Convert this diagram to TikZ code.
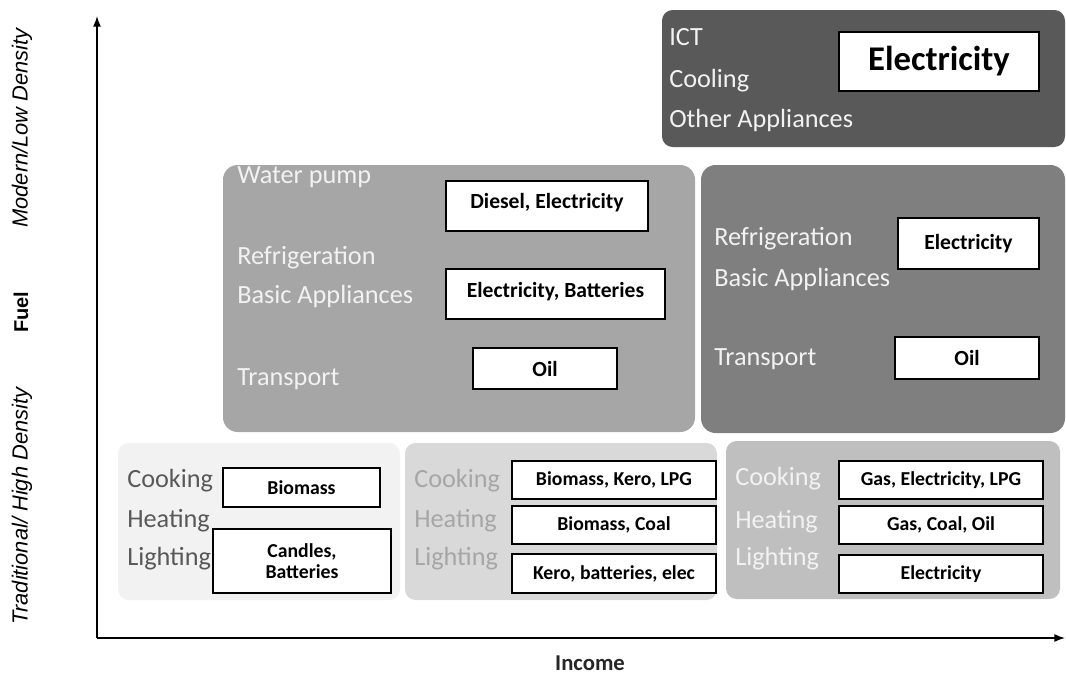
\documentclass[tikz,border=0pt]{standalone}
\usepackage{fontspec}
\setmainfont{Carlito}
\newfontfamily\axisfont{Liberation Sans}
\usetikzlibrary{arrows.meta,fit}
\definecolor{panA}{HTML}{F2F2F2}
\definecolor{panB}{HTML}{D9D9D9}
\definecolor{panC}{HTML}{BFBFBF}
\definecolor{midL}{HTML}{A6A6A6}
\definecolor{midR}{HTML}{7F7F7F}
\definecolor{topP}{HTML}{595959}
\definecolor{lblW}{HTML}{F2F2F2}
\definecolor{lblA}{HTML}{595959}
\definecolor{lblB}{HTML}{A6A6A6}
\newcommand\pxl[1]{#1*0.75pt}
\begin{document}
\begin{tikzpicture}[x=0.75pt,y=-0.75pt,
  panel/.style={rectangle, inner sep=0pt, draw=none, rounded corners=8pt},
  bigpanel/.style={rectangle, inner sep=0pt, draw=none, rounded corners=11pt},
  fuelbox/.style={rectangle, draw=black, line width=1pt, fill=white, inner sep=0pt, align=center, text=black},
  smallbox/.style={fuelbox, font=\bfseries\fontsize{14.8}{16.2}\selectfont},
  midbox/.style={fuelbox, font=\bfseries\fontsize{16.2}{18}\selectfont},
  sz/.style 2 args={minimum width=\pxl{#1}, minimum height=\pxl{#2}},
  lbl/.style={anchor=base west, inner sep=0pt, font=\fontsize{19.7}{22}\selectfont},
  axislbl/.style={rotate=90, anchor=center, inner sep=0pt, font=\axisfont\itshape\fontsize{16.4}{18}\selectfont},
  axisline/.style={line width=1.1pt, -{Latex[length=8pt,width=6pt]}}
]
\useasboundingbox (0,0) rectangle (1066,675);

% axes
\coordinate (o) at (97,638);
\coordinate (yt) at (97,16);
\coordinate (xt) at (1065,638);
\draw[axisline] (o) -- (yt);
\draw[axisline] (o) -- (xt);
\node[anchor=base, inner sep=0pt, font=\bfseries\fontsize{17}{20}\selectfont, text=black!85] (income) at (590,670) {Income};
\node[axislbl] (modern) at (22,128) {Modern/Low Density};
\node[axislbl, font=\axisfont\bfseries\fontsize{15}{17}\selectfont] (fuel) at (21,312) {Fuel};
\node[axislbl] (trad) at (22,506) {Traditional/ High Density};

% top panel
\node[panel, fill=topP, fit={(662,10) (1065,147)}] (ptop) {};
\node[lbl, text=lblW] (t1) at (669,45) {ICT};
\node[lbl, text=lblW] (t2) at (669,87) {Cooling};
\node[lbl, text=lblW] (t3) at (669,127) {Other Appliances};
\node[fuelbox, font=\bfseries\fontsize{26}{30}\selectfont, sz={200}{59}] (tb) at (939,61.5) {Electricity};

% middle left panel
\node[bigpanel, fill=midL, fit={(223,165) (695,432)}] (pml) {};
\node[lbl, text=lblW] (ml1) at (237,183) {Water pump};
\node[lbl, text=lblW] (ml2) at (237,264) {Refrigeration};
\node[lbl, text=lblW] (ml3) at (237,303) {Basic Appliances};
\node[lbl, text=lblW] (ml4) at (237,385) {Transport};
\node[midbox, sz={202}{50}] (mlb1) at (547,206) {\raisebox{7.5pt}{Diesel, Electricity}};
\node[midbox, sz={219}{50}] (mlb2) at (555.5,294) {\raisebox{6pt}{Electricity, Batteries}};
\node[midbox, sz={144}{41}] (mlb3) at (545,368.5) {Oil};

% middle right panel
\node[bigpanel, fill=midR, fit={(701,165) (1065,433)}] (pmr) {};
\node[lbl, text=lblW] (mr1) at (714,245) {Refrigeration};
\node[lbl, text=lblW] (mr2) at (714,286) {Basic Appliances};
\node[lbl, text=lblW] (mr3) at (714,365) {Transport};
\node[midbox, sz={141}{51}] (mrb1) at (968.5,243.5) {Electricity};
\node[midbox, sz={144}{42}] (mrb2) at (967,358) {Oil};

% bottom panel A
\node[panel, fill=panA, fit={(118,443) (400,600)}] (pa) {};
\node[lbl, text=lblA] (a1) at (127,487) {Cooking};
\node[lbl, text=lblA] (a2) at (127,527) {Heating};
\node[lbl, text=lblA] (a3) at (127,565) {Lighting};
\node[smallbox, sz={157}{39}] (ab1) at (301.5,487.5) {Biomass};
\node[smallbox, sz={178}{64}] (ab2) at (302,561) {Candles,\\Batteries};

% bottom panel B
\node[panel, fill=panB, fit={(405,443) (717,600)}] (pb) {};
\node[lbl, text=lblB] (b1) at (414,487) {Cooking};
\node[lbl, text=lblB] (b2) at (414,527) {Heating};
\node[lbl, text=lblB] (b3) at (414,565) {Lighting};
\node[smallbox, sz={204}{38}] (bb1) at (614,480) {Biomass, Kero, LPG};
\node[smallbox, sz={204}{38}] (bb2) at (614,525) {Biomass, Coal};
\node[smallbox, sz={204}{39}] (bb3) at (614,573.5) {Kero, batteries, elec};

% bottom panel C
\node[panel, fill=panC, fit={(726,441) (1060,599)}] (pc) {};
\node[lbl, text=lblW] (c1) at (735,485) {Cooking};
\node[lbl, text=lblW] (c2) at (735,528) {Heating};
\node[lbl, text=lblW] (c3) at (735,565) {Lighting};
\node[smallbox, sz={204}{38}] (cb1) at (941,480) {Gas, Electricity, LPG};
\node[smallbox, sz={204}{38}] (cb2) at (941,525) {Gas, Coal, Oil};
\node[smallbox, sz={204}{38}] (cb3) at (941,574) {Electricity};
\end{tikzpicture}
\end{document}
